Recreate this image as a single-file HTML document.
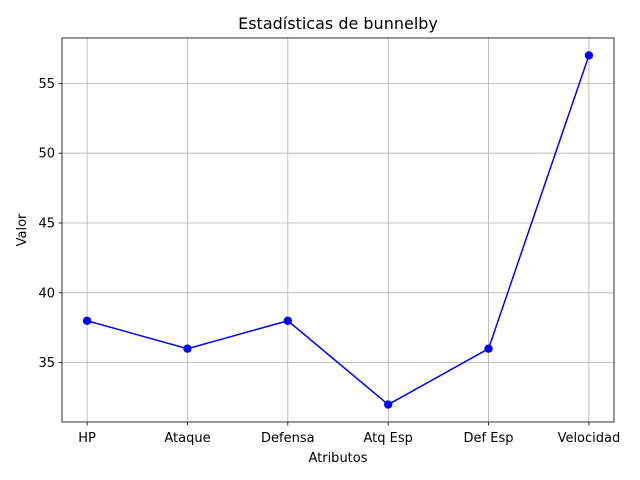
<!DOCTYPE html>
<html><head><meta charset="utf-8"><style>
body{margin:0;background:#fff}
svg{display:block;font-family:"DejaVu Sans","Liberation Sans",sans-serif}
</style></head><body>
<svg id="chart" width="640" height="480" viewBox="0 0 640 480">
<rect width="640" height="480" fill="#fff"/>
<g id="grid"></g>
<g id="series"></g>
<rect x="62" y="38" width="552" height="384" fill="none" stroke="#000" stroke-width="0.8"/>
<g id="xticks"></g>
<g id="yticks"></g>
<text x="338" y="29" text-anchor="middle" font-size="16">Estadísticas de bunnelby</text>
<text x="338" y="462" text-anchor="middle" font-size="13">Atributos</text>
<text transform="translate(26,230) rotate(-90)" text-anchor="middle" font-size="13">Valor</text>
</svg>
<script>
const categories = ["HP","Ataque","Defensa","Atq Esp","Def Esp","Velocidad"];
const values = [38,36,38,32,36,57];
const yTicks = [35,40,45,50,55];

const L=62,R=614,T=38,B=422;
const ymin=Math.min(...values),ymax=Math.max(...values),pad=(ymax-ymin)*0.05;
const y0=ymin-pad,y1=ymax+pad;
const n=categories.length;
const x=i=>L+(i+0.25)/(n-1+0.5)*(R-L);
const y=v=>B-(v-y0)/(y1-y0)*(B-T);
const NS="http://www.w3.org/2000/svg";
function mk(tag,attrs,parent){const e=document.createElementNS(NS,tag);for(const k in attrs)e.setAttribute(k,attrs[k]);parent.appendChild(e);return e;}
const grid=document.getElementById('grid'),xt=document.getElementById('xticks'),yt=document.getElementById('yticks'),ser=document.getElementById('series');
categories.forEach((c,i)=>{
  const g=mk('line',{x1:x(i),x2:x(i),y1:T,y2:B,stroke:'#b0b0b0','stroke-width':0.8},grid);
  
  
  const tk=mk('line',{x1:x(i),x2:x(i),y1:B,y2:B+3.5,stroke:'#000','stroke-width':0.8},xt);
  
  
  const t=mk('text',{x:x(i),y:B+20,'text-anchor':'middle','font-size':13},xt);
  t.textContent=c;
  
  
});
yTicks.forEach(v=>{
  const g=mk('line',{x1:L,x2:R,y1:y(v),y2:y(v),stroke:'#b0b0b0','stroke-width':0.8},grid);
  
  
  const tk=mk('line',{x1:L-3.5,x2:L,y1:y(v),y2:y(v),stroke:'#000','stroke-width':0.8},yt);
  
  
  const t=mk('text',{x:L-7,y:y(v)+4.5,'text-anchor':'end','font-size':13},yt);
  t.textContent=v;
  
  
});
const pl=mk('polyline',{points:values.map((v,i)=>x(i)+','+y(v)).join(' '),fill:'none',stroke:'#0000ff','stroke-width':1.5},ser);


values.forEach((v,i)=>{
  const c=mk('circle',{cx:x(i),cy:y(v),r:4.2,fill:'#0000ff'},ser);
  
  
});
</script>
</body></html>
